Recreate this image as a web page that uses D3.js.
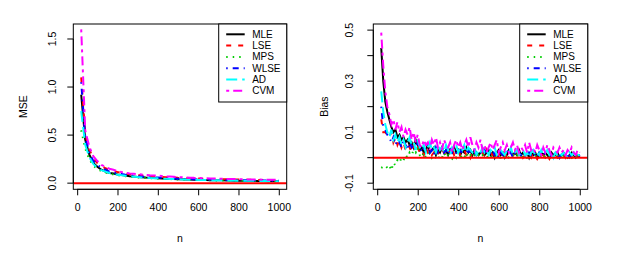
<!DOCTYPE html>
<html>
<head>
<meta charset="utf-8">
<script src="https://cdn.jsdelivr.net/npm/d3@7"></script>
<style>
    body { margin: 0; background: #fff; }
    text { font-family: "Liberation Sans", Arial, sans-serif; fill: #000; }
</style>
</head>
<body>
<svg id="chart" width="623" height="257"></svg>
<script>
var nMse = [20, 40, 60, 80, 100, 120, 140, 160, 180, 200,
    220, 240, 260, 280, 300, 320, 340, 360, 380, 400,
    420, 440, 460, 480, 500, 520, 540, 560, 580, 600,
    620, 640, 660, 680, 700, 720, 740, 760, 780, 800,
    820, 840, 860, 880, 900, 920, 940, 960, 980, 1000];

var nBias = [20, 30, 40, 50, 60, 70, 80, 90, 100, 110,
    120, 130, 140, 150, 160, 170, 180, 190, 200, 210,
    220, 230, 240, 250, 260, 270, 280, 290, 300, 310,
    320, 330, 340, 350, 360, 370, 380, 390, 400, 410,
    420, 430, 440, 450, 460, 470, 480, 490, 500, 510,
    520, 530, 540, 550, 560, 570, 580, 590, 600, 610,
    620, 630, 640, 650, 660, 670, 680, 690, 700, 710,
    720, 730, 740, 750, 760, 770, 780, 790, 800, 810,
    820, 830, 840, 850, 860, 870, 880, 890, 900, 910,
    920, 930, 940, 950, 960, 970, 980, 990, 1000];

var methods = ['MLE', 'LSE', 'MPS', 'WLSE', 'AD', 'CVM'];
var colors = ['#000000', '#ff0000', '#00cd00', '#0000ff', '#00ffff', '#ff00ff'];
var dashes = [null, '5,7', '1.5,5', '1.5,5,6,5', '11,5', '3,4,9,4'];

var mseMLE = [0.92, 0.45, 0.30, 0.21, 0.17, 0.14, 0.12, 0.105, 0.10, 0.09,
    0.085, 0.08, 0.072, 0.07, 0.065, 0.062, 0.058, 0.055, 0.054, 0.05,
    0.048, 0.046, 0.044, 0.043, 0.041, 0.04, 0.038, 0.037, 0.036, 0.035,
    0.034, 0.032, 0.031, 0.031, 0.03, 0.029, 0.028, 0.027, 0.026, 0.026,
    0.025, 0.024, 0.024, 0.023, 0.022, 0.022, 0.021, 0.02, 0.02, 0.019];
var mseLSE = [1.10, 0.52, 0.35, 0.26, 0.21, 0.18, 0.155, 0.14, 0.125, 0.115,
    0.11, 0.10, 0.095, 0.09, 0.085, 0.08, 0.078, 0.072, 0.07, 0.068,
    0.064, 0.062, 0.06, 0.058, 0.055, 0.054, 0.052, 0.05, 0.05, 0.048,
    0.046, 0.045, 0.044, 0.043, 0.042, 0.04, 0.04, 0.039, 0.038, 0.037,
    0.036, 0.036, 0.035, 0.034, 0.034, 0.033, 0.033, 0.032, 0.031, 0.031];
var mseMPS = [0.55, 0.36, 0.25, 0.18, 0.15, 0.125, 0.11, 0.10, 0.09, 0.083,
    0.078, 0.072, 0.068, 0.064, 0.06, 0.057, 0.054, 0.052, 0.05, 0.047,
    0.045, 0.043, 0.042, 0.04, 0.039, 0.037, 0.036, 0.035, 0.034, 0.033,
    0.032, 0.031, 0.03, 0.029, 0.028, 0.028, 0.027, 0.026, 0.025, 0.025,
    0.024, 0.023, 0.023, 0.022, 0.022, 0.021, 0.02, 0.02, 0.019, 0.019];
var mseWLSE = [1.05, 0.48, 0.32, 0.23, 0.19, 0.16, 0.14, 0.12, 0.11, 0.10,
    0.095, 0.088, 0.082, 0.078, 0.073, 0.07, 0.066, 0.062, 0.06, 0.058,
    0.055, 0.052, 0.05, 0.049, 0.047, 0.045, 0.044, 0.042, 0.041, 0.04,
    0.039, 0.038, 0.037, 0.036, 0.035, 0.034, 0.033, 0.032, 0.032, 0.031,
    0.03, 0.03, 0.029, 0.028, 0.028, 0.027, 0.027, 0.026, 0.026, 0.025];
var mseAD = [0.75, 0.40, 0.27, 0.20, 0.16, 0.135, 0.12, 0.105, 0.095, 0.088,
    0.082, 0.076, 0.071, 0.067, 0.063, 0.06, 0.057, 0.054, 0.052, 0.05,
    0.047, 0.045, 0.044, 0.042, 0.04, 0.039, 0.037, 0.036, 0.035, 0.034,
    0.033, 0.032, 0.031, 0.03, 0.03, 0.029, 0.028, 0.027, 0.027, 0.026,
    0.025, 0.025, 0.024, 0.024, 0.023, 0.023, 0.022, 0.022, 0.021, 0.021];
var mseCVM = [1.60, 0.55, 0.38, 0.28, 0.23, 0.19, 0.17, 0.15, 0.14, 0.125,
    0.115, 0.11, 0.10, 0.098, 0.094, 0.09, 0.085, 0.082, 0.08, 0.078,
    0.074, 0.07, 0.068, 0.066, 0.063, 0.061, 0.058, 0.057, 0.055, 0.054,
    0.052, 0.05, 0.049, 0.048, 0.046, 0.045, 0.044, 0.043, 0.042, 0.041,
    0.04, 0.039, 0.038, 0.038, 0.037, 0.036, 0.036, 0.035, 0.035, 0.034];

var biasMLE = [0.43, 0.30, 0.22, 0.18, 0.15, 0.12, 0.10, 0.11, 0.08, 0.09,
    0.07, 0.08, 0.06, 0.07, 0.05, 0.06, 0.04, 0.07, 0.05, 0.03,
    0.04, 0.02, 0.03, 0.05, 0.02, 0.03, 0.04, 0.01, 0.03, 0.02,
    0.04, 0.02, 0.03, 0.01, 0.03, 0.02, 0.04, 0.02, 0.03, 0.01,
    0.03, 0.02, 0.04, 0.02, 0.03, 0.01, 0.03, 0.02, 0.01, 0.02,
    0.03, 0.01, 0.02, 0.03, 0.01, 0.02, 0.00, 0.02, 0.03, 0.01,
    0.02, 0.00, 0.01, 0.03, 0.02, 0.01, 0.02, 0.01, 0.03, 0.01,
    0.02, 0.01, 0.02, 0.00, 0.02, 0.01, 0.02, 0.00, 0.01, 0.02,
    0.01, 0.02, 0.01, 0.00, 0.02, 0.01, 0.01, 0.02, 0.00, 0.01,
    0.02, 0.01, 0.00, 0.01, 0.02, 0.01, 0.00, 0.01, 0.01];
var biasLSE = [0.15, 0.10, 0.10, 0.09, 0.08, 0.10, 0.06, 0.08, 0.05, 0.07,
    0.04, 0.06, 0.03, 0.05, 0.04, 0.02, 0.05, 0.03, 0.04, 0.02,
    0.03, 0.01, 0.04, 0.02, 0.03, 0.01, 0.02, 0.04, 0.02, 0.01,
    0.03, 0.02, 0.01, 0.03, 0.02, 0.04, 0.01, 0.02, 0.03, 0.01,
    0.02, 0.03, 0.01, 0.02, 0.00, 0.02, 0.03, 0.01, 0.02, 0.01,
    0.02, 0.00, 0.03, 0.01, 0.02, 0.01, 0.02, 0.00, 0.01, 0.02,
    0.01, 0.02, 0.00, 0.01, 0.02, 0.01, 0.00, 0.02, 0.01, 0.02,
    0.00, 0.01, 0.02, 0.01, 0.00, 0.02, 0.01, -0.005, 0.01, 0.02,
    0.01, 0.00, 0.01, -0.005, 0.01, 0.02, 0.01, 0.00, 0.01, 0.02,
    0.01, 0.00, 0.02, 0.01, 0.00, 0.01, 0.02, 0.01, 0.00];
var biasMPS = [-0.04, -0.035, -0.03, -0.04, -0.03, -0.05, -0.02, -0.03, -0.01, -0.02,
    0.00, -0.01, 0.01, 0.00, 0.02, 0.01, 0.03, 0.02, 0.04, 0.01,
    0.00, 0.02, 0.00, 0.01, 0.02, 0.00, 0.01, 0.00, -0.01, 0.01,
    0.00, 0.02, 0.00, 0.01, 0.00, -0.005, 0.01, 0.00, 0.02, 0.00,
    0.01, 0.00, 0.02, 0.00, 0.01, 0.00, 0.01, 0.00, 0.01, 0.00,
    0.01, 0.00, 0.00, 0.01, 0.00, 0.01, 0.00, 0.01, 0.00, 0.00,
    0.01, 0.00, 0.01, 0.00, 0.00, 0.01, 0.00, 0.01, 0.00, 0.00,
    0.01, 0.00, 0.00, 0.01, 0.00, 0.00, 0.01, 0.00, 0.00, 0.01,
    0.00, 0.01, 0.00, 0.00, 0.01, 0.00, 0.00, 0.01, 0.00, 0.00,
    0.01, 0.00, 0.00, 0.01, 0.00, 0.00, 0.01, 0.00, 0.00];
var biasWLSE = [0.20, 0.12, 0.11, 0.09, 0.08, 0.06, 0.08, 0.05, 0.07, 0.06,
    0.04, 0.07, 0.05, 0.03, 0.06, 0.04, 0.05, 0.03, 0.06, 0.04,
    0.02, 0.04, 0.03, 0.05, 0.02, 0.03, 0.01, 0.04, 0.02, 0.03,
    0.04, 0.02, 0.03, 0.01, 0.04, 0.02, 0.03, 0.02, 0.01, 0.03,
    0.02, 0.04, 0.02, 0.03, 0.01, 0.03, 0.02, 0.01, 0.03, 0.02,
    0.01, 0.03, 0.02, 0.01, 0.02, 0.03, 0.01, 0.02, 0.00, 0.02,
    0.01, 0.02, 0.03, 0.01, 0.02, 0.00, 0.02, 0.01, 0.02, 0.01,
    0.02, 0.01, 0.00, 0.02, 0.01, 0.02, 0.01, 0.00, 0.02, 0.01,
    0.02, 0.01, 0.01, 0.02, 0.00, 0.01, 0.02, 0.01, 0.00, 0.02,
    0.01, 0.02, 0.01, 0.00, 0.01, 0.02, 0.01, 0.00, 0.01];
var biasAD = [0.26, 0.18, 0.13, 0.10, 0.08, 0.11, 0.07, 0.09, 0.06, 0.08,
    0.05, 0.07, 0.04, 0.06, 0.08, 0.05, 0.06, 0.03, 0.07, 0.04,
    0.03, 0.05, 0.02, 0.04, 0.06, 0.03, 0.04, 0.02, 0.05, 0.03,
    0.04, 0.02, 0.05, 0.03, 0.01, 0.04, 0.03, 0.05, 0.02, 0.04,
    0.03, 0.05, 0.02, 0.04, 0.03, 0.02, 0.04, 0.01, 0.03, 0.02,
    0.04, 0.02, 0.03, 0.01, 0.03, 0.02, 0.04, 0.01, 0.02, 0.03,
    0.02, 0.01, 0.03, 0.02, 0.04, 0.01, 0.02, 0.03, 0.01, 0.02,
    0.03, 0.01, 0.02, 0.00, 0.02, 0.03, 0.01, 0.02, 0.01, 0.03,
    0.01, 0.02, 0.03, 0.01, 0.02, 0.00, 0.02, 0.01, 0.02, 0.01,
    0.02, 0.01, 0.00, 0.02, 0.01, 0.02, 0.00, 0.01, 0.01];
var biasCVM = [0.49, 0.36, 0.26, 0.20, 0.17, 0.13, 0.15, 0.11, 0.14, 0.10,
    0.12, 0.08, 0.11, 0.09, 0.12, 0.07, 0.10, 0.06, 0.09, 0.05,
    0.04, 0.07, 0.05, 0.06, 0.03, 0.07, 0.05, 0.08, 0.04, 0.06,
    0.03, 0.07, 0.05, 0.04, 0.06, 0.02, 0.05, 0.07, 0.04, 0.06,
    0.03, 0.05, 0.07, 0.04, 0.08, 0.05, 0.03, 0.06, 0.04, 0.07,
    0.03, 0.05, 0.02, 0.04, 0.06, 0.03, 0.05, 0.07, 0.02, 0.04,
    0.06, 0.03, 0.05, 0.02, 0.04, 0.06, 0.03, 0.05, 0.02, 0.04,
    0.03, 0.05, 0.02, 0.06, 0.03, 0.04, 0.02, 0.05, 0.03, 0.01,
    0.04, 0.02, 0.05, 0.03, 0.01, 0.04, 0.03, 0.02, 0.04, 0.02,
    0.03, 0.01, 0.03, 0.02, 0.04, 0.02, 0.01, 0.03, 0.02];

var mseTicks = [0, 0.5, 1, 1.5];
var mseTickLabels = ['0.0', '0.5', '1.0', '1.5'];
var biasTicks = [-0.1, 0, 0.1, 0.2, 0.3, 0.4, 0.5];
var biasTickLabels = ['-0.1', '', '0.1', '', '0.3', '', '0.5'];
var xTicks = [0, 200, 400, 600, 800, 1000];

var svg = d3.select('#chart');
svg.append('rect').attr('width', 623).attr('height', 257).attr('fill', '#fff');

var panels = [
    {id: 'mse', title: 'MSE', left: 73.3, right: 286.7, yDomain: [-0.064, 1.656],
        ticks: mseTicks, tickLabels: mseTickLabels, titleX: 23, tickLabelX: 52,
        n: nMse, series: [mseMLE, mseLSE, mseMPS, mseWLSE, mseAD, mseCVM]},
    {id: 'bias', title: 'Bias', left: 373.3, right: 587.7, yDomain: [-0.124, 0.524],
        ticks: biasTicks, tickLabels: biasTickLabels, titleX: 324, tickLabelX: 349,
        n: nBias, series: [biasMLE, biasLSE, biasMPS, biasWLSE, biasAD, biasCVM]}
];

// note: "top" is taken by window.top, so use other names
var plotTop = 24, plotBottom = 189.3;

var drawPanel = function drawPanel(p) {
    var x = d3.scaleLinear().domain([-19.2, 1039.2]).range([p.left, p.right]),
        y = d3.scaleLinear().domain(p.yDomain).range([plotBottom, plotTop]),
        g = svg.append('g');

    g.append('clipPath').attr('id', 'clip-' + p.id)
        .append('rect')
        .attr('x', p.left).attr('y', plotTop)
        .attr('width', p.right - p.left).attr('height', plotBottom - plotTop);

    var plot = g.append('g').attr('clip-path', 'url(#clip-' + p.id + ')');
    var line = d3.line()
        .x(function (d, i) { return x(p.n[i]); })
        .y(function (d) { return y(d); });

    p.series.forEach(function (values, i) {
        plot.append('path')
            .datum(values)
            .attr('d', line)
            .attr('fill', 'none')
            .attr('stroke', colors[i])
            .attr('stroke-width', 2)
            .attr('stroke-dasharray', dashes[i]);
    });

    // abline(h = 0)
    plot.append('line')
        .attr('x1', p.left).attr('x2', p.right)
        .attr('y1', y(0)).attr('y2', y(0))
        .attr('stroke', '#ff0000').attr('stroke-width', 2);

    // axes, R style: ticks out, line from first to last tick
    var xAxis = d3.axisBottom(x).tickValues(xTicks).tickSize(6).tickPadding(8)
        .tickFormat(d3.format('d'));
    var gx = g.append('g').attr('transform', 'translate(0,' + plotBottom + ')').call(xAxis);
    gx.select('.domain').attr('d', 'M' + x(0) + ',0H' + x(1000));
    gx.selectAll('text').attr('font-size', '10.5px').attr('fill', '#000');
    gx.attr('font-family', null);

    var yAxis = d3.axisLeft(y).tickValues(p.ticks).tickSize(6)
        .tickFormat(function (d, i) { return p.tickLabels[i]; });
    var gy = g.append('g').attr('transform', 'translate(' + p.left + ',0)').call(yAxis);
    gy.attr('font-family', null);
    gy.select('.domain').attr('d', 'M0,' + y(p.ticks[0]) + 'V' + y(p.ticks[p.ticks.length - 1]));
    gy.selectAll('.tick').attr('transform', null);
    gy.selectAll('.tick line')
        .attr('y1', function (d) { return y(d); })
        .attr('y2', function (d) { return y(d); });
    gy.selectAll('.tick text')
        .attr('font-size', '10.5px').attr('fill', '#000')
        .attr('text-anchor', 'middle').attr('dy', null).attr('x', null)
        .attr('dominant-baseline', 'central')
        .attr('transform', function (d) {
            return 'translate(' + (p.tickLabelX - p.left) + ',' + y(d) + ') rotate(-90)';
        });

    g.append('rect')
        .attr('x', p.left).attr('y', plotTop)
        .attr('width', p.right - p.left).attr('height', plotBottom - plotTop)
        .attr('fill', 'none').attr('stroke', '#000').attr('stroke-width', 1);

    g.append('text')
        .attr('x', (p.left + p.right) / 2).attr('y', 242)
        .attr('text-anchor', 'middle').attr('font-size', '10.5px').text('n');
    g.append('text')
        .attr('transform', 'translate(' + p.titleX + ',' + ((plotTop + plotBottom) / 2) + ') rotate(-90)')
        .attr('text-anchor', 'middle').attr('dominant-baseline', 'central')
        .attr('font-size', '10.5px').text(p.title);

    // legend
    var lx = p.right - 68, lg = g.append('g');
    lg.append('rect')
        .attr('x', lx).attr('y', plotTop).attr('width', 68).attr('height', 78)
        .attr('fill', '#fff').attr('stroke', '#000').attr('stroke-width', 1);
    methods.forEach(function (m, i) {
        var ly = 34.3 + i * 11.3;
        lg.append('line')
            .attr('x1', lx + 7.5).attr('x2', lx + 26)
            .attr('y1', ly).attr('y2', ly)
            .attr('stroke', colors[i]).attr('stroke-width', 2)
            .attr('stroke-dasharray', dashes[i]);
        lg.append('text')
            .attr('x', lx + 33.5).attr('y', ly)
            .attr('dominant-baseline', 'central')
            .attr('font-size', '10px').text(m);
    });
};

panels.forEach(drawPanel);
</script>
</body>
</html>
